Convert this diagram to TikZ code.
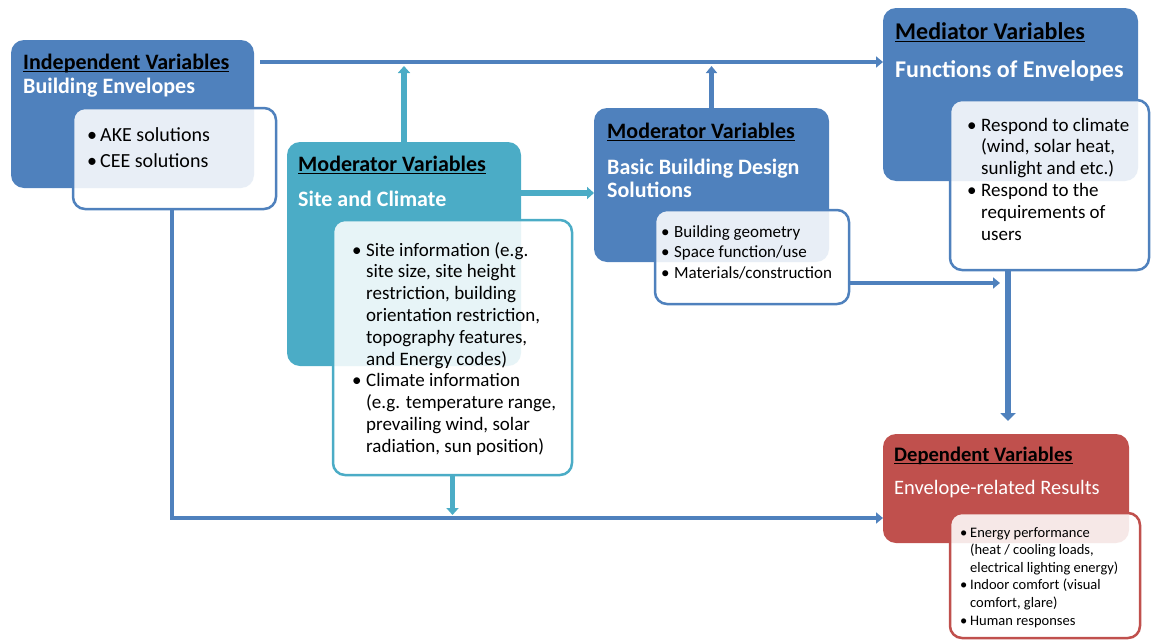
\documentclass[tikz,border=0pt]{standalone}
\usepackage{fontspec}
\setmainfont{Carlito}
\usetikzlibrary{arrows.meta}
\definecolor{envblue}{RGB}{79,129,189}
\definecolor{envteal}{RGB}{75,172,198}
\definecolor{envred}{RGB}{192,80,77}
% bullet in a box of given width, and the matching indent for wrapped lines
\newcommand\itm[1]{\makebox[#1][l]{•}}
\newcommand\ind[1]{\hspace*{#1}}
% underline drawn close under the baseline
\newcommand\headul[1]{\setbox0\hbox{#1}\rlap{\rule[-3.2pt]{\wd0}{1.3pt}}\box0}

\begin{document}
\begin{tikzpicture}[x=1pt,y=-1pt,
  panel/.style={anchor=north west, rounded corners=13pt, inner sep=0pt, outer sep=0pt},
  detail/.style={anchor=north west, rounded corners=12pt, inner sep=0pt, outer sep=0pt,
    fill=white, fill opacity=0.87, line width=2.5pt},
  heading/.style={anchor=base west, inner sep=0pt, font=\fontsize{22}{26}\selectfont\bfseries},
  subhead/.style={heading, text=white},
  items/.style={anchor=base west, inner sep=0pt},
  link/.style={line width=4.5pt, draw=envblue, -{Triangle[length=7pt,width=11pt]}},
  tlink/.style={line width=5.5pt, draw=envteal, -{Triangle[length=7pt,width=12pt]}},
]
\useasboundingbox (0,0) rectangle (1151,640);

% coloured panels
\node[panel, fill=envblue, minimum width=243pt, minimum height=148pt] (indep) at (11,40) {};
\node[panel, fill=envteal, minimum width=234pt, minimum height=224pt] (site) at (287,142) {};
\node[panel, fill=envblue, minimum width=235pt, minimum height=154pt] (basic) at (594,108) {};
\node[panel, fill=envblue, minimum width=255pt, minimum height=173pt] (med) at (883,8) {};
\node[panel, fill=envred, minimum width=246pt, minimum height=109pt] (dep) at (883,434) {};

% detail boxes
\node[detail, draw=envblue, minimum width=203pt, minimum height=101pt] (indepin) at (73,108) {};
\node[detail, draw=envteal, minimum width=239pt, minimum height=255pt] (sitein) at (333,220) {};
\node[detail, draw=envblue, minimum width=194pt, minimum height=94pt] (basicin) at (655,210) {};
\node[detail, draw=envblue, minimum width=199pt, minimum height=170pt] (medin) at (950,100) {};
\node[detail, draw=envred, minimum width=190pt, minimum height=125pt] (depin) at (950,513) {};

% headings
\node[heading] (indepT) at (23,69) {\headul{Independent Variables}};
\node[subhead] (indepS) at (23,93) {Building Envelopes};
\node[heading] (siteT) at (298,171) {\headul{Moderator Variables}};
\node[subhead] (siteS) at (298,206) {Site and Climate};
\node[heading] (basicT) at (607,138) {\headul{Moderator Variables}};
\node[subhead] (basicS) at (607,174) {Basic Building Design};
\node[subhead] (basicS2) at (607,197) {Solutions};
\node[heading, font=\fontsize{24}{28}\selectfont\bfseries] (medT) at (895,39) {\headul{Mediator Variables}};
\node[subhead, font=\fontsize{24}{28}\selectfont\bfseries] (medS) at (895,77) {Functions of Envelopes};
\node[heading, font=\fontsize{20.6}{24}\selectfont\bfseries] (depT) at (894,461) {\headul{Dependent Variables}};
\node[subhead, font=\fontsize{20.5}{24}\selectfont] (depS) at (894,494) {Envelope-related Results};

% item lists
\node[items, font=\fontsize{20}{26}\selectfont] (indepL) at (87,141) {\begin{tabular}[t]{@{}l@{}}
\itm{13pt}AKE solutions\\
\itm{13pt}CEE solutions
\end{tabular}};
\node[items, font=\fontsize{19}{21.8}\selectfont] (siteL) at (352,256) {\begin{tabular}[t]{@{}l@{}}
\itm{14pt}Site information (e.g.\\
\ind{14pt}site size, site height\\
\ind{14pt}restriction, building\\
\ind{14pt}orientation restriction,\\
\ind{14pt}topography features,\\
\ind{14pt}and Energy codes)\\
\itm{14pt}Climate information\\
\ind{14pt}(e.g. temperature range,\\
\ind{14pt}prevailing wind, solar\\
\ind{14pt}radiation, sun position)
\end{tabular}};
\node[items, font=\fontsize{17}{20.5}\selectfont] (basicL) at (661,237) {\begin{tabular}[t]{@{}l@{}}
\itm{13pt}Building geometry\\
\itm{13pt}Space function/use\\
\itm{13pt}Materials/construction
\end{tabular}};
\node[items, font=\fontsize{19}{21.8}\selectfont] (medL) at (967,131) {\begin{tabular}[t]{@{}l@{}}
\itm{14pt}Respond to climate\\
\ind{14pt}(wind, solar heat,\\
\ind{14pt}sunlight and etc.)\\
\itm{14pt}Respond to the\\
\ind{14pt}requirements of\\
\ind{14pt}users
\end{tabular}};
\node[items, font=\fontsize{14.5}{17.6}\selectfont] (depL) at (960,537) {\begin{tabular}[t]{@{}l@{}}
\itm{10pt}Energy performance\\
\ind{10pt}(heat / cooling loads,\\
\ind{10pt}electrical lighting energy)\\
\itm{10pt}Indoor comfort (visual\\
\ind{10pt}comfort, glare)\\
\itm{10pt}Human responses
\end{tabular}};

% connector routing points
\coordinate (topy) at (0,62);
\coordinate (midy) at (0,193);
\coordinate (boty) at (172,518);
\coordinate (medx) at (1008,283);
\coordinate (topstart) at ([xshift=6pt]indep.east);

% connectors
\draw[link] (topstart |- topy) -- (med.west |- topy);
\draw[tlink, shorten >=4pt] (site.north) -- (site.north |- topy);
\draw[link, shorten >=4pt] (basic.north) -- (basic.north |- topy);
\draw[tlink] (site.east |- midy) -- (basic.west |- midy);
\draw[link, shorten >=8pt] (basicin.east |- medx) -- (medx);
\draw[link, line width=6.5pt, -{Triangle[length=8pt,width=15pt]}, shorten >=13pt]
  (medin.south -| medx) -- (dep.north -| medx);
\draw[link] (indepin.south -| boty) |- (dep.west |- boty);
\draw[tlink, shorten >=3pt] (sitein.south) -- (sitein.south |- boty);
\end{tikzpicture}
\end{document}
